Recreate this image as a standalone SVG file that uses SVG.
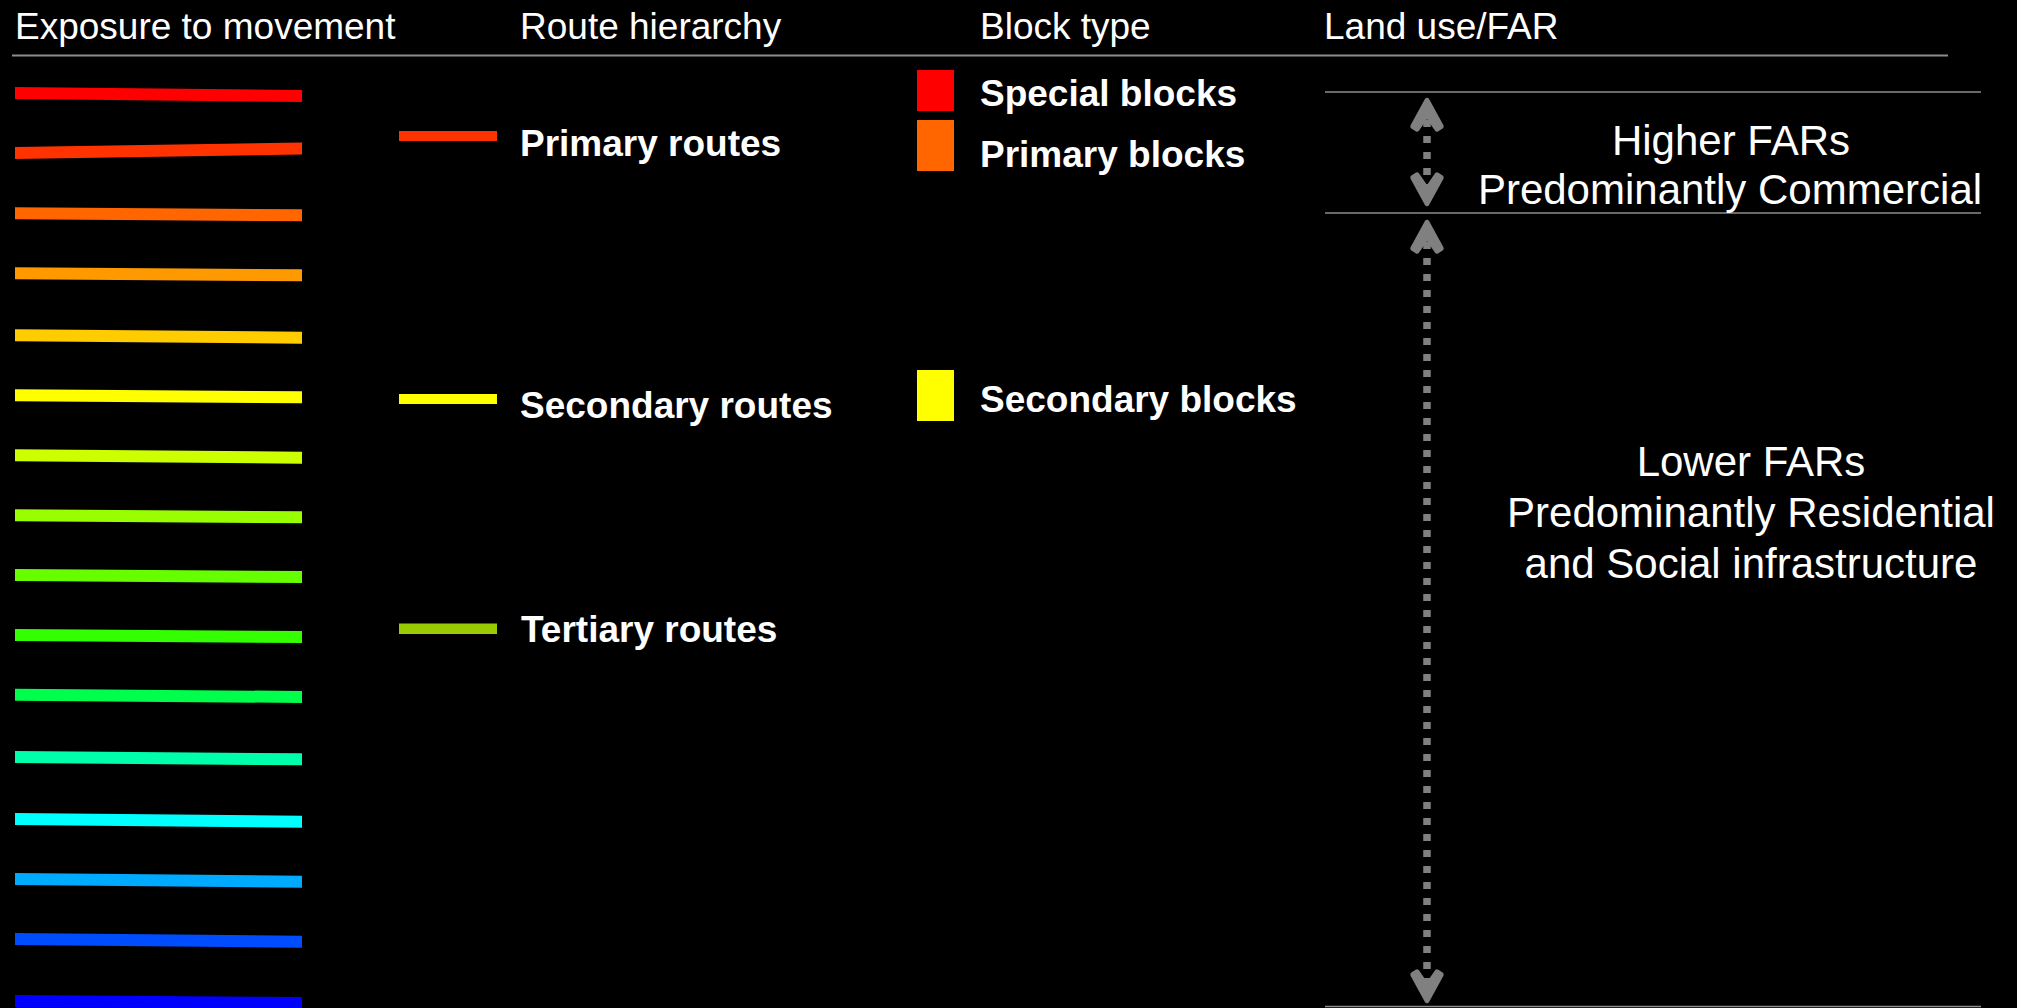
<svg xmlns="http://www.w3.org/2000/svg" width="2017" height="1008" viewBox="0 0 2017 1008">
<style>
.hdr{font-family:"Liberation Sans",Arial,sans-serif;font-size:37px;fill:#fff}
.lbl{font-family:"Liberation Sans",Arial,sans-serif;font-size:37px;font-weight:bold;fill:#fff}
.far{font-family:"Liberation Sans",Arial,sans-serif;font-size:42px;fill:#fff;text-anchor:middle}
.rule{stroke:#8c8c8c;stroke-width:2;fill:none}
.thin{stroke:#8c8c8c;stroke-width:1.5;fill:none}
.dots{stroke:#808080;stroke-width:7.5;stroke-dasharray:7 9;stroke-dashoffset:11;fill:none}
</style>
<defs>
<marker id="head" markerUnits="userSpaceOnUse" orient="auto-start-reverse" refX="-18" refY="0" markerWidth="44" markerHeight="44" viewBox="-42 -22 46 44" overflow="visible">
<path d="M-2.5,0 L-30,-15 L-33,-10.5 L-18,0 L-33,10.5 L-30,15 Z" fill="#808080" stroke="#808080" stroke-width="5" stroke-linejoin="round"/>
</marker>
</defs>
<rect x="0" y="0" width="2017" height="1008" fill="#000"/>

<g id="headers">
<text class="hdr" x="15" y="39">Exposure to movement</text>
<text class="hdr" x="520" y="39">Route hierarchy</text>
<text class="hdr" x="980" y="39">Block type</text>
<text class="hdr" x="1324" y="39">Land use/FAR</text>
<line class="rule" x1="12" y1="55.5" x2="1948" y2="55.5"/>
</g>

<g id="exposure-bars">
<polygon points="15,87 302,90 302,102 15,99" fill="#FF0000"/>
<polygon points="15,147 302,142.5 302,154.5 15,159" fill="#FF3300"/>
<polygon points="15,207.3 302,209.3 302,221.3 15,219.3" fill="#FF6600"/>
<polygon points="15,267.3 302,269.3 302,281.3 15,279.3" fill="#FF9900"/>
<polygon points="15,329.3 302,331.7 302,343.7 15,341.3" fill="#FFCC00"/>
<polygon points="15,389.3 302,391.3 302,403.3 15,401.3" fill="#FFFF00"/>
<polygon points="15,449.2 302,451.7 302,463.7 15,461.2" fill="#CCFF00"/>
<polygon points="15,509.3 302,511.3 302,523.3 15,521.3" fill="#99FF00"/>
<polygon points="15,569 302,571 302,583 15,581" fill="#66FF00"/>
<polygon points="15,629 302,631 302,643 15,641" fill="#33FF00"/>
<polygon points="15,688.7 302,691 302,703 15,700.7" fill="#00FF4C"/>
<polygon points="15,751 302,753.3 302,765.3 15,763" fill="#00FFAA"/>
<polygon points="15,813 302,815.8 302,827.8 15,825" fill="#00FFFF"/>
<polygon points="15,873 302,875.8 302,887.8 15,885" fill="#00AAFF"/>
<polygon points="15,933 302,935.8 302,947.8 15,945" fill="#004CFF"/>
<polygon points="15,995 302,997 302,1009 15,1007" fill="#0000FF"/>
</g>

<g id="route-primary">
<rect x="399" y="131" width="98" height="10" fill="#FF3300"/>
<text class="lbl" x="520" y="156">Primary routes</text>
</g>
<g id="route-secondary">
<rect x="399" y="394" width="98" height="10" fill="#FFFF00"/>
<text class="lbl" x="520" y="418">Secondary routes</text>
</g>
<g id="route-tertiary">
<rect x="399" y="623.5" width="98" height="10.5" fill="#99CC00"/>
<text class="lbl" x="521" y="642">Tertiary routes</text>
</g>

<g id="block-special">
<rect x="917" y="70" width="37" height="41" fill="#FF0000"/>
<text class="lbl" x="980" y="106">Special blocks</text>
</g>
<g id="block-primary">
<rect x="917" y="120" width="37" height="51" fill="#FF6600"/>
<text class="lbl" x="980" y="167">Primary blocks</text>
</g>
<g id="block-secondary">
<rect x="917" y="370" width="37" height="51" fill="#FFFF00"/>
<text class="lbl" x="980" y="412">Secondary blocks</text>
</g>

<g id="landuse-rules">
<line class="thin" x1="1325" y1="92" x2="1981" y2="92"/>
<line class="thin" x1="1325" y1="213" x2="1981" y2="213"/>
<line class="thin" x1="1325" y1="1006.5" x2="1981" y2="1006.5"/>
</g>

<g id="landuse-higher">
<text class="far" x="1731" y="155">Higher FARs</text>
<text class="far" x="1730" y="204">Predominantly Commercial</text>
</g>
<g id="landuse-lower">
<text class="far" x="1751" y="476">Lower FARs</text>
<text class="far" x="1751" y="527">Predominantly Residential</text>
<text class="far" x="1751" y="578">and Social infrastructure</text>
</g>

<g id="connectors">
<line class="dots" x1="1427" y1="115" x2="1427" y2="189" marker-start="url(#head)" marker-end="url(#head)"/>
<line class="dots" x1="1427" y1="237" x2="1427" y2="986" marker-start="url(#head)" marker-end="url(#head)"/>
</g>
</svg>
